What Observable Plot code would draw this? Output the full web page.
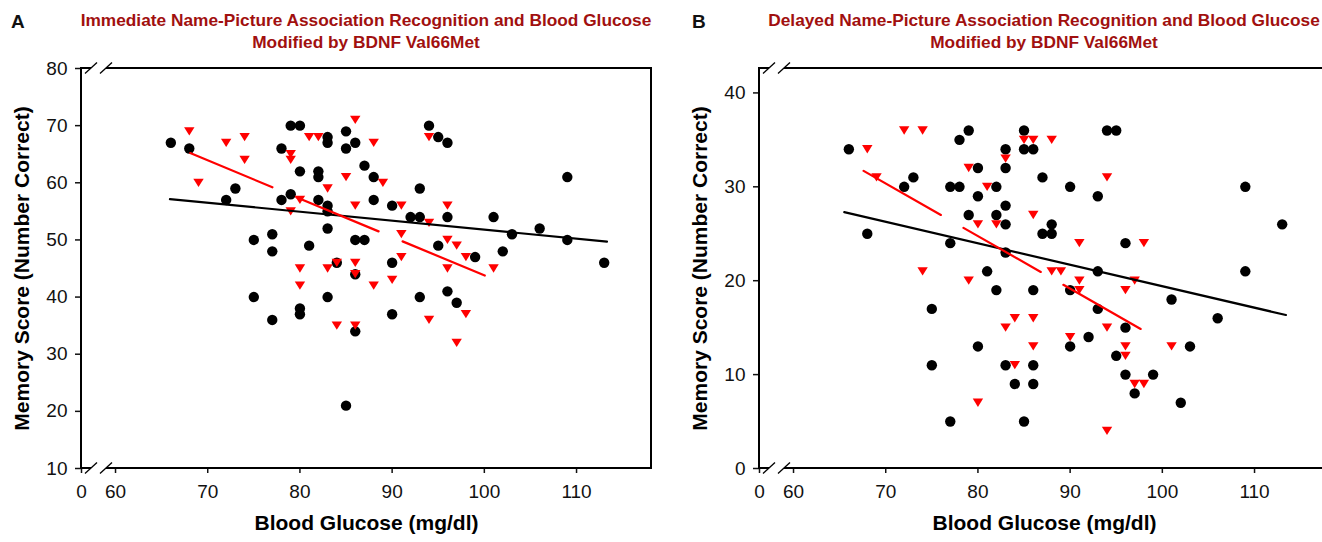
<!DOCTYPE html>
<html><head><meta charset="utf-8">
<script src="https://cdn.jsdelivr.net/npm/d3@7"></script>
<script src="https://cdn.jsdelivr.net/npm/@observablehq/plot@0.6"></script>
<style>
body{margin:0;background:#fff;overflow:hidden}
#wrap{position:relative;width:1322px;height:542px;overflow:hidden;font-family:"Liberation Sans",Arial,Helvetica,sans-serif}
.title{position:absolute;top:9px;color:#a1100f;font-weight:bold;font-size:17.3px;text-align:center;line-height:22px;width:700px}
.letter{position:absolute;top:11px;font-weight:bold;font-size:19px;line-height:22px;color:#111}
.panel{position:absolute;top:0;width:661px;height:542px}
.panel svg{max-width:none !important;width:661px;height:542px}
</style></head><body>
<div id="wrap"></div>
<script>
// ---------- Panel A: Immediate recognition ----------
const circleGlucoseA = [66,68,72,73,75,75,77,77,77,78,78,79,79,80,80,80,80,81,82,82,82,83,83,83,83,83,83,84,85,85,85,86,86,86,86,87,87,88,88,90,90,90,92,93,93,93,94,95,95,96,96,96,97,99,101,102,103,106,109,109,113];
const circleScoreA   = [67,66,57,59,50,40,51,48,36,66,57,70,58,70,62,38,37,49,62,61,57,68,67,56,55,52,40,46,69,66,21,67,50,44,34,63,50,61,57,56,46,37,54,59,54,40,70,68,49,67,54,41,39,47,54,48,51,52,61,50,46];
const triGlucoseA = [68,69,72,74,74,79,79,79,80,80,80,81,82,83,83,84,84,85,86,86,86,86,86,88,88,89,90,91,91,91,94,94,94,96,96,96,97,97,98,98,101];
const triScoreA   = [69,60,67,68,64,65,64,55,57,45,42,68,68,59,45,46,35,61,71,56,46,44,35,67,42,60,43,56,51,47,68,53,36,56,50,45,49,32,47,37,45];
const blackFitA = {glucose: [65.9, 113.3], score: [57.15, 49.7]};
const redFitA   = {glucose: [68.1, 100.3], score: [65.2, 43.6]};

// ---------- Panel B: Delayed recognition ----------
const circleGlucoseB = [66,68,72,73,75,75,77,77,77,78,78,79,79,80,80,80,81,82,82,82,83,83,83,83,83,83,84,85,85,85,86,86,86,86,87,87,88,88,90,90,90,92,93,93,93,94,95,95,96,96,96,97,99,101,102,103,106,109,109,113];
const circleScoreB   = [34,25,30,31,17,11,30,24,5,35,30,36,27,32,29,13,21,30,27,19,34,32,28,26,23,11,9,36,34,5,34,19,11,9,31,25,26,25,30,19,13,14,29,21,17,36,36,12,24,15,10,8,10,18,7,13,16,30,21,26];
const triGlucoseB = [68,69,72,74,74,79,79,80,80,81,82,83,83,84,84,85,86,86,86,86,88,88,89,90,91,91,91,94,94,94,96,96,96,97,97,98,98,101];
const triScoreB   = [34,31,36,36,21,32,20,26,7,30,26,33,15,16,11,35,35,27,16,13,35,21,21,14,24,20,19,31,15,4,19,13,12,20,9,24,9,13];
const blackFitB = {glucose: [65.5, 113.4], score: [27.3, 16.35]};
const redFitB   = {glucose: [67.6, 98.3], score: [31.7, 14.5]};

// ---------- Texts & axes ----------
const titlesA = ["Immediate Name-Picture Association Recognition and Blood Glucose", "Modified by BDNF Val66Met"];
const titlesB = ["Delayed Name-Picture Association Recognition and Blood Glucose", "Modified by BDNF Val66Met"];
const xLabel = "Blood Glucose (mg/dl)";
const yLabel = "Memory Score (Number Correct)";
const xDomain = [56.31, 118.13];        // left edge shown as "0" (broken axis)
const xTickValues = [60, 70, 80, 90, 100, 110];
const yDomainA = [10, 80], yTicksA = [10, 20, 30, 40, 50, 60, 70, 80];
const yDomainB = [0, 42.6], yTicksB = [0, 10, 20, 30, 40];

const triDown = {draw(ctx, size){ const r = Math.sqrt(size/Math.PI); const w = r, h = r*0.8;
  ctx.moveTo(-w, -h); ctx.lineTo(w, -h); ctx.lineTo(0, h); ctx.closePath(); }};

function frameMark(index, scales, values, dim){
  const {width, height, marginLeft: ml, marginRight: mr, marginTop: mt, marginBottom: mb} = dim;
  const g = d3.create("svg:g").attr("fill", "none").attr("stroke", "#000");
  const L = ml, R = width - mr, T = mt, B = height - mb;
  const b1 = L + 10, b2 = L + 25;
  g.append("line").attr("x1", L).attr("x2", L).attr("y1", T - 1).attr("y2", B + 1).attr("stroke-width", 2);
  g.append("line").attr("x1", R).attr("x2", R).attr("y1", T - 1).attr("y2", B + 1).attr("stroke-width", 2);
  for (const y of [T, B]) {
    g.append("line").attr("x1", L).attr("x2", b1).attr("y1", y).attr("y2", y).attr("stroke-width", 2);
    g.append("line").attr("x1", b2).attr("x2", R + 1).attr("y1", y).attr("y2", y).attr("stroke-width", 2);
    for (const bx of [b1, b2]) g.append("line").attr("x1", bx - 6).attr("x2", bx + 6).attr("y1", y + 5.5).attr("y2", y - 5.5).attr("stroke-width", 1.3);
  }
  return g.node();
}

function fitRows(f){ return f.glucose.map((g, i) => ({g, s: f.score[i]})); }

function panel(cg, cs, tg, ts, bf, rf, yDomain, yTicks){
  const circles = cg.map((g, i) => ({g, s: cs[i]}));
  const tris = tg.map((g, i) => ({g, s: ts[i]}));
  return Plot.plot({
    width: 661, height: 542,
    marginLeft: 81, marginRight: 10, marginTop: 68, marginBottom: 74,
    style: {fontFamily: "'Liberation Sans', Arial, Helvetica, sans-serif", background: "transparent", color: "#111", maxWidth: "none"},
    x: {domain: xDomain},
    y: {domain: yDomain},
    marks: [
      Plot.axisY({ticks: yTicks, tickSize: 6, tickPadding: 8, fontSize: 19, label: null, strokeWidth: 1.5}),
      Plot.axisX({ticks: [xDomain[0], ...xTickValues], tickFormat: d => d < 60 ? "0" : String(d), tickSize: 5, tickPadding: 11, fontSize: 19, label: null, strokeWidth: 1.5}),
      frameMark,
      Plot.dot(circles, {x: "g", y: "s", r: 5.2, fill: "#000", stroke: "none"}),
      Plot.dot(tris, {x: "g", y: "s", r: 5.2, symbol: triDown, fill: "#f00", stroke: "none"}),
      Plot.line(fitRows(bf), {x: "g", y: "s", stroke: "#000", strokeWidth: 2.2}),
      Plot.line(fitRows(rf), {x: "g", y: "s", stroke: "#f00", strokeWidth: 2.2, strokeDasharray: "89 26"}),
      Plot.text([yLabel], {frameAnchor: "left", textAnchor: "middle", dx: -59, rotate: -90, fontSize: 21, fontWeight: "bold", fill: "#000"}),
      Plot.text([xLabel], {frameAnchor: "bottom", dy: 61, fontSize: 21, fontWeight: "bold", fill: "#000"})
    ]
  });
}

const wrap = document.getElementById("wrap");
function addPanel(svg, left, letter, letterLeft, titles, titleCenter){
  const p = document.createElement("div"); p.className = "panel"; p.style.left = left + "px";
  p.appendChild(svg); wrap.appendChild(p);
  const l = document.createElement("div"); l.className = "letter"; l.style.left = letterLeft + "px"; l.textContent = letter; wrap.appendChild(l);
  const t = document.createElement("div"); t.className = "title"; t.style.left = (titleCenter - 350) + "px";
  t.innerHTML = titles.map(s => `<div>${s}</div>`).join(""); wrap.appendChild(t);
}
addPanel(panel(circleGlucoseA, circleScoreA, triGlucoseA, triScoreA, blackFitA, redFitA, yDomainA, yTicksA), 0, "A", 11, titlesA, 366);
addPanel(panel(circleGlucoseB, circleScoreB, triGlucoseB, triScoreB, blackFitB, redFitB, yDomainB, yTicksB), 678, "B", 692, titlesB, 1044);
</script>
</body></html>
